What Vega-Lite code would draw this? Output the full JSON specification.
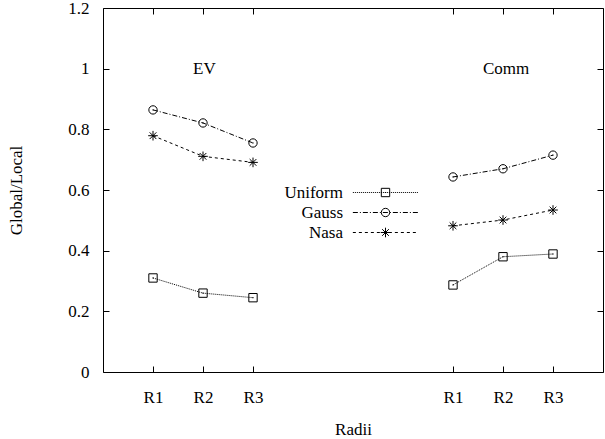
{
  "$schema": "https://vega.github.io/schema/vega-lite/v6.json",
  "width": 500,
  "height": 364,
  "autosize": {"type": "none"},
  "padding": {"left": 103, "top": 8, "right": 2, "bottom": 67},
  "config": {
    "view": {"stroke": "#000", "strokeWidth": 1},
    "font": "Liberation Serif",
    "axis": {"domain": false, "grid": false, "tickColor": "#000", "tickSize": -6, "labelFont": "Liberation Serif", "labelFontSize": 17, "labelColor": "#000", "titleFont": "Liberation Serif", "titleFontSize": 17, "titleFontWeight": "normal", "titleColor": "#000"},
    "legend": {"labelFont": "Liberation Serif", "labelFontSize": 17, "labelColor": "#000"}
  },
  "datasets": {
    "points": [
      {"pos": 1, "group": "EV", "series": "Uniform", "value": 0.31},
      {"pos": 2, "group": "EV", "series": "Uniform", "value": 0.26},
      {"pos": 3, "group": "EV", "series": "Uniform", "value": 0.245},
      {"pos": 1, "group": "EV", "series": "Gauss", "value": 0.864},
      {"pos": 2, "group": "EV", "series": "Gauss", "value": 0.821},
      {"pos": 3, "group": "EV", "series": "Gauss", "value": 0.755},
      {"pos": 1, "group": "EV", "series": "Nasa", "value": 0.779},
      {"pos": 2, "group": "EV", "series": "Nasa", "value": 0.711},
      {"pos": 3, "group": "EV", "series": "Nasa", "value": 0.691},
      {"pos": 7, "group": "Comm", "series": "Uniform", "value": 0.287},
      {"pos": 8, "group": "Comm", "series": "Uniform", "value": 0.38},
      {"pos": 9, "group": "Comm", "series": "Uniform", "value": 0.389},
      {"pos": 7, "group": "Comm", "series": "Gauss", "value": 0.643},
      {"pos": 8, "group": "Comm", "series": "Gauss", "value": 0.67},
      {"pos": 9, "group": "Comm", "series": "Gauss", "value": 0.715},
      {"pos": 7, "group": "Comm", "series": "Nasa", "value": 0.482},
      {"pos": 8, "group": "Comm", "series": "Nasa", "value": 0.501},
      {"pos": 9, "group": "Comm", "series": "Nasa", "value": 0.534}
    ],
    "labels": [
      {"pos": 1.8, "value": 1.0, "text": "EV"},
      {"pos": 7.6, "value": 1.0, "text": "Comm"}
    ]
  },
  "resolve": {"axis": {"x": "independent", "y": "independent"}},
  "layer": [
    {
      "data": {"name": "points"},
      "mark": {"type": "line", "stroke": "#000", "strokeWidth": 1},
      "encoding": {
        "x": {"field": "pos", "type": "quantitative", "scale": {"domain": [0, 10], "nice": false, "zero": false},
              "axis": {"orient": "bottom", "values": [1, 2, 3, 7, 8, 9], "labelExpr": "'R' + (datum.value > 5 ? datum.value - 6 : datum.value)", "labelPadding": 23, "title": "Radii", "titlePadding": 16}},
        "y": {"field": "value", "type": "quantitative", "scale": {"domain": [0, 1.2], "nice": false},
              "axis": {"orient": "left", "values": [0, 0.2, 0.4, 0.6, 0.8, 1, 1.2], "format": "~g", "labelPadding": 20, "title": "Global/Local", "titlePadding": 42}},
        "strokeDash": {"field": "series", "type": "nominal", "sort": ["Uniform", "Gauss", "Nasa"],
              "scale": {"range": [[1, 1], [5, 2, 1, 2], [3, 3]]},
              "legend": {"orient": "none", "legendX": 274, "legendY": 176, "title": null, "direction": "vertical",
                         "symbolType": "M-7.8,0H7.8", "symbolSize": 70, "symbolStrokeWidth": 1, "symbolStrokeColor": "#000",
                         "labelAlign": "right", "labelOffset": -51, "rowPadding": 2}},
        "detail": {"field": "group"}
      }
    },
    {
      "data": {"name": "points"},
      "mark": {"type": "point", "filled": false, "stroke": "#000", "strokeWidth": 1, "size": 70, "opacity": 1},
      "encoding": {
        "x": {"field": "pos", "type": "quantitative", "axis": {"orient": "top", "values": [1, 2, 3, 7, 8, 9], "labels": false, "title": null}},
        "y": {"field": "value", "type": "quantitative", "axis": {"orient": "right", "values": [0, 0.2, 0.4, 0.6, 0.8, 1, 1.2], "labels": false, "title": null}},
        "shape": {"field": "series", "type": "nominal",
              "scale": {"domain": ["Uniform", "Gauss", "Nasa"],
                        "range": ["M-1,-1H1V1H-1ZM-0.15,0H0.15", "M1,0A1,1,0,1,1,-1,0A1,1,0,1,1,1,0ZM-0.15,0H0.15", "M-1.15,0H1.15M0,-1.15V1.15M-0.8,-0.8L0.8,0.8M-0.8,0.8L0.8,-0.8"]},
              "legend": {"orient": "none", "legendX": 274, "legendY": 176, "title": null, "direction": "vertical",
                         "symbolSize": 70, "symbolStrokeWidth": 1, "symbolStrokeColor": "#000", "symbolFillColor": "transparent",
                         "labelAlign": "right", "labelOffset": -51, "labelOpacity": 0, "rowPadding": 2}}
      }
    },
    {
      "data": {"name": "labels"},
      "mark": {"type": "text", "align": "left", "baseline": "middle", "font": "Liberation Serif", "fontSize": 17, "color": "#000"},
      "encoding": {
        "x": {"field": "pos", "type": "quantitative", "axis": null},
        "y": {"field": "value", "type": "quantitative", "axis": null},
        "text": {"field": "text"}
      }
    }
  ]
}
